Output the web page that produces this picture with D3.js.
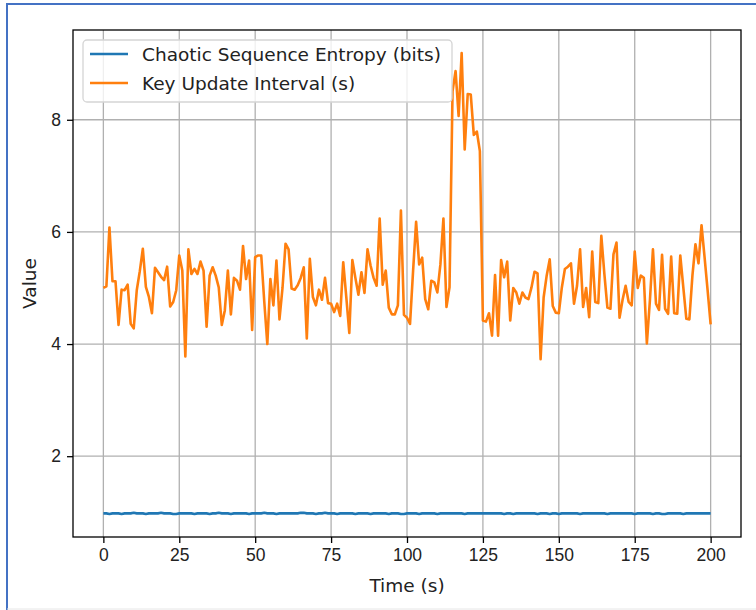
<!DOCTYPE html>
<html>
  <head>
    <meta charset="utf-8">
    <title>Entropy and Key Update</title>
    <style>
      body{
        margin: 0;
        background-color: #FFF;
      }
      svg{
        display: block;
        font-family: "DejaVu Sans", sans-serif;
      }
      .grid line{
        stroke: #b0b0b0;
        stroke-width: 1.3px;
      }
      .axis path, .axis line{
        stroke: #000;
        stroke-width: 1.3px;
      }
      .axis text{
        font-size: 17.5px;
        fill: #222;
      }
      path.series{
        fill: none;
        stroke-width: 2.6px;
        stroke-linejoin: round;
      }
    </style>
  </head>
  <body>
  <script src="https://cdn.jsdelivr.net/npm/d3@7"></script>
  <script>
const width = 756;
const height = 610;

// time axis, 0..200 s
const times = d3.range(0, 201);

const seriesNames = ['Chaotic Sequence Entropy (bits)', 'Key Update Interval (s)'];
const seriesColors = ['#1f77b4', '#ff7f0e'];

const entropy = [
  0.98, 0.98, 0.97, 0.98, 0.98, 0.98, 0.97, 0.98, 0.98, 0.98,
  0.99, 0.98, 0.98, 0.98, 0.97, 0.98, 0.98, 0.98, 0.98, 0.99,
  0.98, 0.98, 0.98, 0.97, 0.97, 0.98, 0.98, 0.98, 0.98, 0.98,
  0.97, 0.98, 0.98, 0.98, 0.98, 0.97, 0.98, 0.98, 0.99, 0.98,
  0.98, 0.98, 0.97, 0.98, 0.98, 0.98, 0.98, 0.98, 0.97, 0.98,
  0.98, 0.98, 0.98, 0.99, 0.98, 0.98, 0.98, 0.97, 0.98, 0.98,
  0.98, 0.98, 0.98, 0.98, 0.98, 0.99, 0.99, 0.98, 0.98, 0.98,
  0.97, 0.98, 0.98, 0.99, 0.98, 0.98, 0.98, 0.97, 0.98, 0.98,
  0.98, 0.98, 0.98, 0.97, 0.98, 0.98, 0.98, 0.98, 0.97, 0.98,
  0.98, 0.98, 0.98, 0.98, 0.97, 0.98, 0.98, 0.98, 0.97, 0.97,
  0.98, 0.98, 0.98, 0.98, 0.97, 0.98, 0.98, 0.98, 0.98, 0.98,
  0.97, 0.98, 0.98, 0.98, 0.98, 0.98, 0.98, 0.98, 0.98, 0.97,
  0.98, 0.98, 0.98, 0.98, 0.98, 0.98, 0.98, 0.98, 0.98, 0.98,
  0.98, 0.98, 0.97, 0.98, 0.98, 0.97, 0.98, 0.98, 0.98, 0.98,
  0.98, 0.98, 0.98, 0.97, 0.98, 0.98, 0.98, 0.97, 0.98, 0.98,
  0.97, 0.98, 0.98, 0.98, 0.98, 0.98, 0.98, 0.97, 0.98, 0.98,
  0.98, 0.98, 0.98, 0.98, 0.98, 0.98, 0.97, 0.98, 0.98, 0.98,
  0.98, 0.98, 0.98, 0.98, 0.98, 0.97, 0.98, 0.98, 0.98, 0.98,
  0.98, 0.97, 0.98, 0.98, 0.97, 0.97, 0.98, 0.98, 0.98, 0.98,
  0.98, 0.97, 0.98, 0.98, 0.98, 0.98, 0.98, 0.98, 0.98, 0.98,
  0.98
];

const keyInterval = [
  5.00, 5.03, 6.08, 5.12, 5.12, 4.34, 4.97, 4.96, 5.06, 4.36,
  4.28, 4.96, 5.30, 5.70, 5.02, 4.84, 4.55, 5.36, 5.28, 5.20,
  5.14, 5.38, 4.67, 4.75, 4.96, 5.58, 5.31, 3.78, 5.69, 5.25,
  5.34, 5.25, 5.47, 5.31, 4.31, 5.22, 5.37, 5.22, 5.01, 4.34,
  4.60, 5.31, 4.53, 5.18, 5.13, 4.97, 5.75, 5.16, 5.49, 4.25,
  5.55, 5.58, 5.58, 4.75, 4.00, 5.16, 4.69, 5.49, 4.44, 5.00,
  5.79, 5.69, 4.99, 4.97, 5.05, 5.18, 5.37, 4.10, 5.52, 4.84,
  4.69, 4.97, 4.79, 5.18, 4.73, 4.72, 4.57, 4.72, 4.50, 5.46,
  4.84, 4.20, 5.50, 5.18, 4.88, 5.28, 4.91, 5.69, 5.40, 5.18,
  5.04, 6.24, 5.06, 5.31, 4.65, 4.53, 4.53, 4.69, 6.38, 4.52,
  4.47, 4.36, 5.30, 6.18, 5.42, 5.54, 4.80, 4.62, 5.13, 5.10,
  4.92, 5.42, 6.24, 4.66, 5.01, 8.51, 8.87, 8.07, 9.19, 7.47,
  8.46, 8.45, 7.73, 7.79, 7.44, 4.42, 4.40, 4.55, 4.15, 5.23,
  4.15, 5.50, 5.19, 5.47, 4.42, 5.00, 4.92, 4.72, 4.92, 4.83,
  4.80, 5.01, 5.29, 5.26, 3.73, 4.83, 5.22, 5.51, 4.68, 4.56,
  4.55, 5.01, 5.34, 5.38, 5.44, 4.72, 5.04, 5.69, 4.66, 5.00,
  4.48, 5.65, 4.75, 4.73, 5.93, 5.25, 4.65, 4.63, 5.60, 5.81,
  4.47, 4.79, 5.04, 4.75, 4.69, 5.65, 5.00, 5.22, 5.18, 4.01,
  4.78, 5.69, 4.72, 4.61, 5.59, 4.63, 4.54, 5.56, 4.55, 4.54,
  5.58, 5.01, 4.45, 4.44, 5.22, 5.78, 5.44, 6.12, 5.55, 4.96,
  4.35
];

const xTicks = [0, 25, 50, 75, 100, 125, 150, 175, 200];
const yTicks = [2, 4, 6, 8];

const margin = { top: 30, right: 15, bottom: 73, left: 73 };

const svg = d3.select('body')
  .append('svg')
  .attr('width', width)
  .attr('height', height);

// outer frame around the figure
svg.append('path')
  .attr('d', `M7,${height}L7,4L${width},4`)
  .attr('fill', 'none')
  .attr('stroke', '#4472c4')
  .attr('stroke-width', 2);
svg.append('line')
  .attr('x1', 7).attr('x2', width)
  .attr('y1', 609).attr('y2', 609)
  .attr('stroke', '#e6e6e6')
  .attr('stroke-width', 1);

const x = d3.scaleLinear()
  .domain([-10, 210])
  .range([margin.left, width - margin.right]);

const allValues = entropy.concat(keyInterval);
const lo = d3.min(allValues);
const hi = d3.max(allValues);
const pad = (hi - lo) * 0.05;
const y = d3.scaleLinear()
  .domain([lo - pad, hi + pad])
  .range([height - margin.bottom, margin.top]);

// grid
svg.append('g')
  .attr('class', 'grid')
  .selectAll('line.gx')
  .data(xTicks)
  .join('line')
    .attr('x1', (d) => x(d)).attr('x2', (d) => x(d))
    .attr('y1', margin.top).attr('y2', height - margin.bottom);

svg.append('g')
  .attr('class', 'grid')
  .selectAll('line.gy')
  .data(yTicks)
  .join('line')
    .attr('x1', margin.left).attr('x2', width - margin.right)
    .attr('y1', (d) => y(d)).attr('y2', (d) => y(d));

// lines
const line = d3.line()
  .x((d, i) => x(times[i]))
  .y((d) => y(d));

[entropy, keyInterval].forEach((s, i) => {
  svg.append('path')
    .datum(s)
    .attr('class', 'series')
    .attr('stroke', seriesColors[i])
    .attr('d', line);
});

// axes
const xAxis = svg.append('g')
  .attr('class', 'axis')
  .attr('transform', `translate(0,${height - margin.bottom})`)
  .call(d3.axisBottom(x).tickValues(xTicks).tickSize(6).tickPadding(6).tickSizeOuter(0));

const yAxis = svg.append('g')
  .attr('class', 'axis')
  .attr('transform', `translate(${margin.left},0)`)
  .call(d3.axisLeft(y).tickValues(yTicks).tickSize(6).tickPadding(6).tickSizeOuter(0));

xAxis.select('.domain').remove();
yAxis.select('.domain').remove();

svg.append('rect')
  .attr('x', margin.left)
  .attr('y', margin.top)
  .attr('width', width - margin.left - margin.right)
  .attr('height', height - margin.top - margin.bottom)
  .attr('fill', 'none')
  .attr('stroke', '#000')
  .attr('stroke-width', 1.3);

svg.append('text')
  .attr('x', (margin.left + width - margin.right) / 2)
  .attr('y', 592)
  .attr('text-anchor', 'middle')
  .attr('font-size', 18.5)
  .attr('fill', '#222')
  .text('Time (s)');

svg.append('text')
  .attr('transform', `translate(36,${(margin.top + height - margin.bottom) / 2}) rotate(-90)`)
  .attr('text-anchor', 'middle')
  .attr('font-size', 18.5)
  .attr('fill', '#222')
  .text('Value');

// legend
const legend = svg.append('g').attr('transform', 'translate(83,40)');
legend.append('rect')
  .attr('width', 369)
  .attr('height', 62)
  .attr('rx', 4)
  .attr('fill', 'rgba(255,255,255,0.8)')
  .attr('stroke', '#d5d5d5')
  .attr('stroke-width', 1.3);

const item = legend.selectAll('g.item')
  .data(seriesNames)
  .join('g')
    .attr('class', 'item')
    .attr('transform', (d, i) => `translate(0,${14 + i * 29})`);

item.append('line')
  .attr('x1', 7).attr('x2', 45)
  .attr('stroke', (d, i) => seriesColors[i])
  .attr('stroke-width', 2.6);

item.append('text')
  .attr('x', 59)
  .attr('y', 6.5)
  .attr('font-size', 18.5)
  .attr('fill', '#222')
  .text((d) => d);
  </script>
  </body>
</html>
